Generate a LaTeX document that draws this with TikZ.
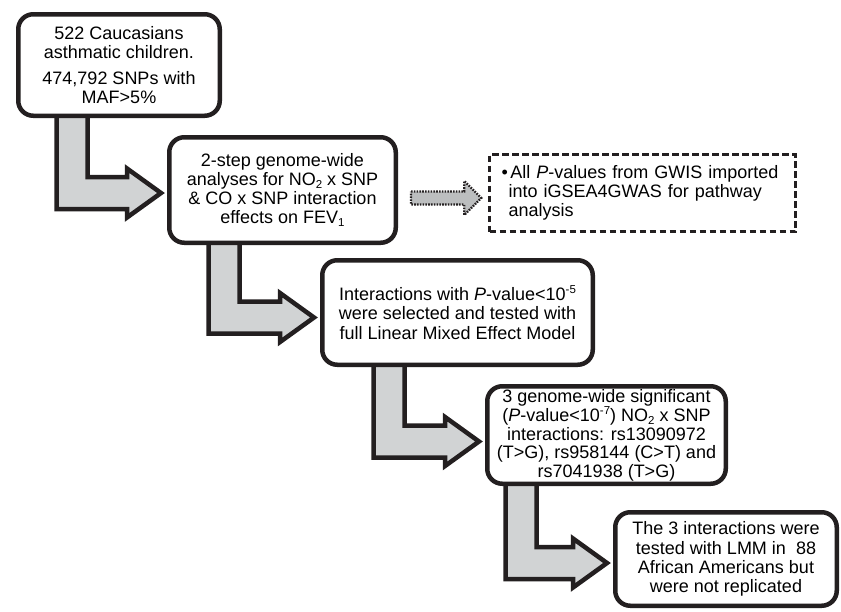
\documentclass[tikz,border=0pt]{standalone}
\usepackage{fontspec}
\setmainfont{Liberation Sans}
\usetikzlibrary{calc,backgrounds}
\definecolor{ink}{HTML}{231F20}
\definecolor{fillgray}{HTML}{D1D3D4}
\newcommand\lsub[1]{\raisebox{-0.3ex}{\fontsize{11.5}{11.5}\selectfont #1}}
\newcommand\hsup[1]{\raisebox{0.75ex}{\fontsize{11.5}{11.5}\selectfont #1}}
% block arrow from node #1 (bottom) to node #2 (left side); #3 = shaft x offset, #4 = drop below target centre
\newcommand\blkarrow[4]{%
  \draw[blockarr] let \p1=(#1.south west), \p2=(#2.west) in
    ({\x1+#3pt-15.5pt},{\y1+4pt}) --
    ({\x1+#3pt-15.5pt},{\y2-#4pt-16pt}) --
    ({\x2-40pt},{\y2-#4pt-16pt}) --
    ({\x2-40pt},{\y2-#4pt-24.5pt}) --
    ({\x2-6pt},{\y2-#4pt}) --
    ({\x2-40pt},{\y2-#4pt+24.5pt}) --
    ({\x2-40pt},{\y2-#4pt+16pt}) --
    ({\x1+#3pt+15.5pt},{\y2-#4pt+16pt}) --
    ({\x1+#3pt+15.5pt},{\y1+4pt}) -- cycle;}
\begin{document}
\begin{tikzpicture}[x=1pt,y=-1pt,
  txt/.style={font=\fontsize{18}{19.2}\selectfont},
  box/.style={txt, draw=ink, line width=4.5pt, rounded corners=15pt, fill=white,
    inner sep=0pt, align=center},
  dbox/.style={txt, draw=ink, line width=2.5pt, dash pattern=on 6.5pt off 3.5pt,
    fill=white, inner xsep=12pt, inner ysep=0pt, text width=282pt, align=left,
    minimum height=77pt},
  blockarr/.style={draw=ink, line width=4.5pt, fill=fillgray, miter limit=10},
  dotarr/.style={draw=ink, line width=2.3pt, dash pattern=on 1.6pt off 1.2pt, fill=fillgray!90!black}]
\useasboundingbox (0,0) rectangle (841,611);

\node[box, minimum width=201.5pt, minimum height=101.5pt] (b1) at (119,65)
  {522 Caucasians\\asthmatic children.\\[7pt]474,792 SNPs with\\MAF>5\%};
\node[box, minimum width=226.5pt, minimum height=105.5pt] (b2) at (282.5,190)
  {2-step genome-wide\\analyses for NO\lsub{2} x SNP\\\& CO x SNP interaction\\effects on FEV\lsub{1}};
\node[box, minimum width=270.5pt, minimum height=104.5pt] (b3) at (457.5,312.5)
  {Interactions with \textit{P}-value<10\hsup{-5}\\were selected and tested with\\full Linear Mixed Effect Model};
\node[box, minimum width=238.5pt, minimum height=97.5pt, font=\fontsize{18}{18.5}\selectfont] (b4) at (606.5,435)
  {3 genome-wide significant\\(\textit{P}-value<10\hsup{-7}) NO\lsub{2} x SNP\\interactions: rs13090972\\(T>G), rs958144 (C>T) and\\rs7041938 (T>G)};
\node[box, minimum width=221.5pt, minimum height=93.5pt] (b5) at (726,559)
  {The 3 interactions were\\tested with LMM in \ 88\\African Americans but\\were not replicated};
\node[dbox] (d) at (642.5,193)
  {•\hspace{2.5pt}All \textit{P}-values from GWIS imported\\\hspace*{7pt}into iGSEA4GWAS for pathway\\\hspace*{7pt}analysis};

\begin{scope}[on background layer]
  \blkarrow{b1}{b2}{56}{3}
  \blkarrow{b2}{b3}{57}{5}
  \blkarrow{b3}{b4}{69}{6.5}
  \blkarrow{b4}{b5}{36}{4}
\end{scope}

\draw[dotarr] let \p1=(b2.east), \p2=(d.west) in
  ({\x1+13pt},{\y2-5pt+6.5pt}) -- ({\x2-24pt},{\y2-5pt+6.5pt}) --
  ({\x2-24pt},{\y2-5pt+17pt}) -- ({\x2-7pt},{\y2-5pt}) --
  ({\x2-24pt},{\y2-5pt-17pt}) -- ({\x2-24pt},{\y2-5pt-6.5pt}) --
  ({\x1+13pt},{\y2-5pt-6.5pt}) -- cycle;
\end{tikzpicture}
\end{document}
